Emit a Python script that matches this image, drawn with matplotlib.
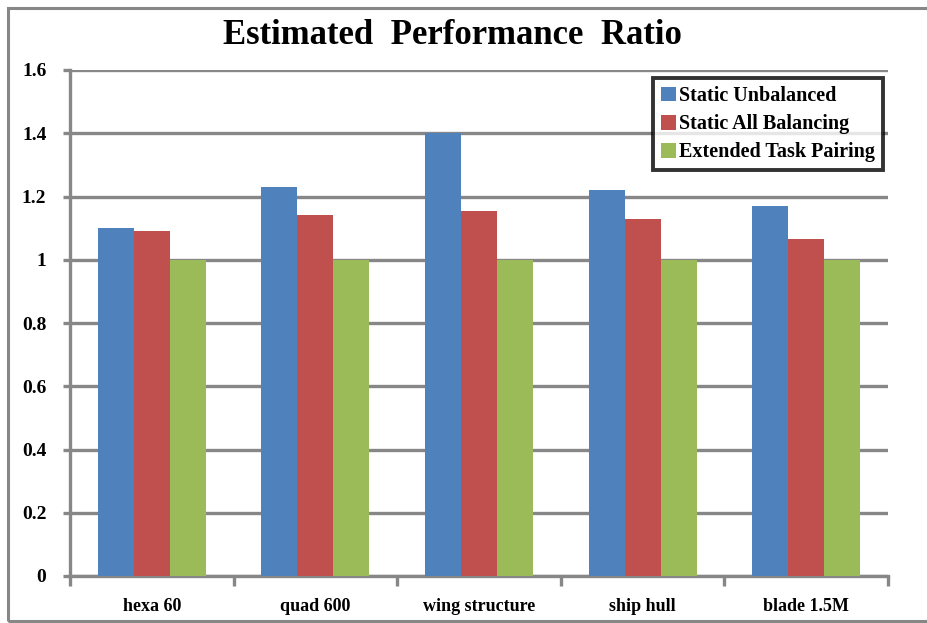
import matplotlib.pyplot as plt
import numpy as np
from matplotlib.patches import Rectangle

categories = ["hexa 60", "quad 600", "wing structure", "ship hull", "blade 1.5M"]
series_names = ["Static Unbalanced", "Static All Balancing", "Extended Task Pairing"]
static_unbalanced = [1.10, 1.23, 1.40, 1.22, 1.17]
static_all_balancing = [1.09, 1.14, 1.155, 1.13, 1.065]
extended_task_pairing = [1.0, 1.0, 1.0, 1.0, 1.0]
yticks = [0, 0.2, 0.4, 0.6, 0.8, 1, 1.2, 1.4, 1.6]
ytick_labels = ["0", "0.2", "0.4", "0.6", "0.8", "1", "1.2", "1.4", "1.6"]

colors = ["#4F81BD", "#C0504D", "#9BBB59"]
grey = "#878787"

plt.rcParams['font.family'] = ['Liberation Serif', 'DejaVu Serif']
plt.rcParams['font.weight'] = 'bold'

fig = plt.figure(figsize=(9.27, 6.23), dpi=100)
ax = fig.add_axes([70 / 927, 1 - 576 / 623, 818 / 927, 506 / 623])

x = np.arange(len(categories))
w = 0.22
for i, vals in enumerate([static_unbalanced, static_all_balancing, extended_task_pairing]):
    ax.bar(x + (i - 1) * w, vals, w, color=colors[i], label=series_names[i],
           zorder=3, edgecolor='none')

ax.set_ylim(0, 1.6)
ax.set_xlim(-0.5, len(categories) - 0.5)
ax.set_yticks(yticks)
ax.set_yticklabels(ytick_labels, fontsize=14, fontweight='bold')
ax.yaxis.grid(True, color=grey, linewidth=2.4, zorder=1)

# category labels centred, ticks on the boundaries
ax.set_xticks(x)
ax.set_xticklabels(categories, fontsize=13, fontweight='bold')
ax.tick_params(axis='x', length=0, pad=16)
ax.set_xticks(np.arange(-0.5, len(categories)), minor=True)
ax.tick_params(axis='x', which='minor', length=7, width=2.4, color=grey, direction='out')
ax.tick_params(axis='y', length=5, width=2.4, color=grey, direction='out', pad=12)

for s in ['top', 'right']:
    ax.spines[s].set_visible(False)
for s in ['left', 'bottom']:
    ax.spines[s].set_color(grey)
    ax.spines[s].set_linewidth(2.4)

leg = ax.legend(loc='upper right', bbox_to_anchor=(1.006, 1.004), fontsize=14.5,
                frameon=True, fancybox=False, borderpad=0.4, labelspacing=0.4,
                handlelength=0.75, handleheight=0.75, handletextpad=0.15)
leg.get_frame().set_edgecolor('black')
leg.get_frame().set_linewidth(2.8)
for t in leg.get_texts():
    t.set_fontweight('bold')

fig.text(452 / 927, 1 - 36 / 623, "Estimated  Performance  Ratio", ha='center',
         va='center', fontsize=25, fontweight='bold')

# chart frame
fig.patches.append(Rectangle((8 / 927, 2 / 623), 1.0, 613 / 623, transform=fig.transFigure,
                             fill=False, edgecolor=grey, linewidth=2.2))

fig.savefig("out.png", dpi=100)
